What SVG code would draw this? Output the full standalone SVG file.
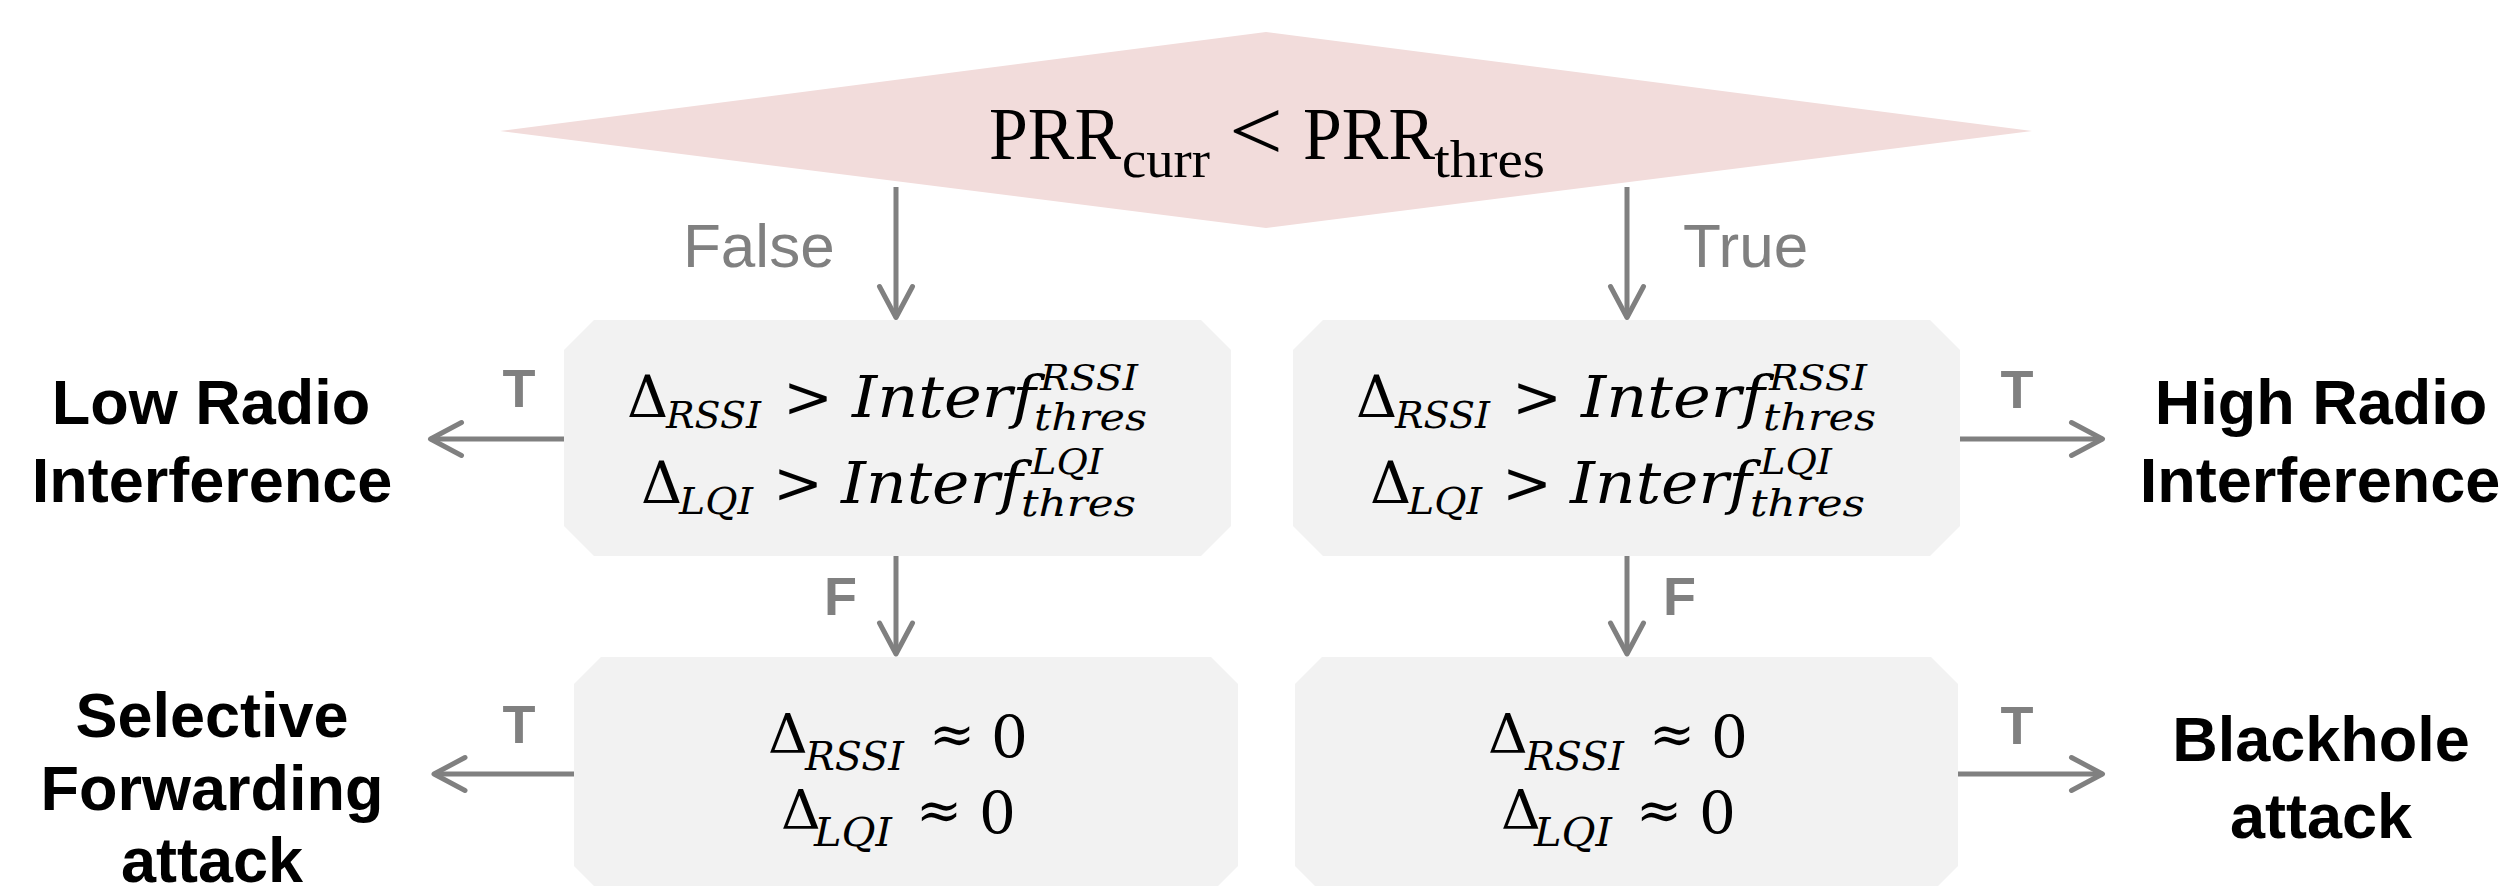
<svg xmlns="http://www.w3.org/2000/svg" width="2513" height="886" viewBox="0 0 2513 886">
  <style>
    .math { font-family: "DejaVu Serif", "Liberation Serif", serif; fill: #000; }
    .it { font-style: italic; }
    .prr { font-family: "Liberation Serif", "Times New Roman", serif; fill: #000; }
    .branch { font-family: "Liberation Sans", Arial, sans-serif; fill: #808080; font-size: 62px; }
    .tf { font-family: "Liberation Sans", Arial, sans-serif; fill: #808080; font-size: 54px; font-weight: bold; }
    .result { font-family: "Liberation Sans", Arial, sans-serif; fill: #000; font-size: 63px; font-weight: bold; text-anchor: middle; }
    .box { fill: #F2F2F2; }
    .wire { stroke: #808080; stroke-width: 5; fill: none; marker-end: url(#arrow); }
  </style>
  <defs>
    <marker id="arrow" markerUnits="userSpaceOnUse" markerWidth="40" markerHeight="40" viewBox="-35 -20 40 40" refX="0" refY="0" orient="auto" overflow="visible">
      <path d="M-31,-16.5 L0,0 L-31,16.5" fill="none" stroke="#808080" stroke-width="5" stroke-linecap="round" stroke-linejoin="round"/>
    </marker>
  </defs>

  <rect width="2513" height="886" fill="#FFFFFF"/>

  <!-- Top decision: packet reception ratio against threshold -->
  <g id="decision-prr">
    <polygon points="1266,32 2032,131 1266,228 500,131" fill="#F2DCDB"/>
    <text class="prr" x="989" y="159" font-size="75" textLength="132" lengthAdjust="spacingAndGlyphs">PRR</text>
    <text class="prr" x="1122" y="177" font-size="53" textLength="88" lengthAdjust="spacingAndGlyphs">curr</text>
    <text class="prr" x="1229" y="160" font-size="86" textLength="54" lengthAdjust="spacingAndGlyphs">&lt;</text>
    <text class="prr" x="1303" y="159" font-size="75" textLength="132" lengthAdjust="spacingAndGlyphs">PRR</text>
    <text class="prr" x="1434" y="177" font-size="53" textLength="111" lengthAdjust="spacingAndGlyphs">thres</text>
  </g>

  <!-- Interference check, False branch -->
  <g id="check-interference-false">
    <polygon class="box" points="594,320 1201,320 1231,350 1231,526 1201,556 594,556 564,526 564,350"/>
    <text class="math" x="627" y="417" font-size="57">Δ</text>
    <text class="math it" x="666" y="428" font-size="37" textLength="95" lengthAdjust="spacingAndGlyphs">RSSI</text>
    <text class="math" x="783" y="417" font-size="57" textLength="50" lengthAdjust="spacingAndGlyphs">&gt;</text>
    <text class="math it" x="852" y="417" font-size="57" textLength="184" lengthAdjust="spacingAndGlyphs">Interf</text>
    <text class="math it" x="1040" y="390" font-size="36" textLength="98" lengthAdjust="spacingAndGlyphs">RSSI</text>
    <text class="math it" x="1034" y="430" font-size="37" textLength="113" lengthAdjust="spacingAndGlyphs">thres</text>
    <text class="math" x="641" y="503" font-size="57">Δ</text>
    <text class="math it" x="679" y="514" font-size="37" textLength="74" lengthAdjust="spacingAndGlyphs">LQI</text>
    <text class="math" x="773" y="503" font-size="57" textLength="50" lengthAdjust="spacingAndGlyphs">&gt;</text>
    <text class="math it" x="841" y="503" font-size="57" textLength="182" lengthAdjust="spacingAndGlyphs">Interf</text>
    <text class="math it" x="1031" y="474" font-size="36" textLength="72" lengthAdjust="spacingAndGlyphs">LQI</text>
    <text class="math it" x="1021" y="516" font-size="37" textLength="115" lengthAdjust="spacingAndGlyphs">thres</text>
  </g>

  <!-- Interference check, True branch -->
  <g id="check-interference-true">
    <polygon class="box" points="1323,320 1930,320 1960,350 1960,526 1930,556 1323,556 1293,526 1293,350"/>
    <text class="math" x="1356" y="417" font-size="57">Δ</text>
    <text class="math it" x="1395" y="428" font-size="37" textLength="95" lengthAdjust="spacingAndGlyphs">RSSI</text>
    <text class="math" x="1512" y="417" font-size="57" textLength="50" lengthAdjust="spacingAndGlyphs">&gt;</text>
    <text class="math it" x="1581" y="417" font-size="57" textLength="184" lengthAdjust="spacingAndGlyphs">Interf</text>
    <text class="math it" x="1769" y="390" font-size="36" textLength="98" lengthAdjust="spacingAndGlyphs">RSSI</text>
    <text class="math it" x="1763" y="430" font-size="37" textLength="113" lengthAdjust="spacingAndGlyphs">thres</text>
    <text class="math" x="1370" y="503" font-size="57">Δ</text>
    <text class="math it" x="1408" y="514" font-size="37" textLength="74" lengthAdjust="spacingAndGlyphs">LQI</text>
    <text class="math" x="1502" y="503" font-size="57" textLength="50" lengthAdjust="spacingAndGlyphs">&gt;</text>
    <text class="math it" x="1570" y="503" font-size="57" textLength="182" lengthAdjust="spacingAndGlyphs">Interf</text>
    <text class="math it" x="1760" y="474" font-size="36" textLength="72" lengthAdjust="spacingAndGlyphs">LQI</text>
    <text class="math it" x="1750" y="516" font-size="37" textLength="115" lengthAdjust="spacingAndGlyphs">thres</text>
  </g>

  <!-- Near-zero deviation check, False branch -->
  <g id="check-zero-false">
    <polygon class="box" points="601,657 1211,657 1238,684 1238,866 1211,893 601,893 574,866 574,684"/>
    <text class="math" x="768" y="753" font-size="55">Δ</text>
    <text class="math it" x="805" y="770" font-size="40" textLength="99" lengthAdjust="spacingAndGlyphs">RSSI</text>
    <text class="math" x="929" y="753" font-size="55">≈</text>
    <text class="math" x="991" y="757" font-size="58">0</text>
    <text class="math" x="781" y="829" font-size="55">Δ</text>
    <text class="math it" x="814" y="846" font-size="40" textLength="78" lengthAdjust="spacingAndGlyphs">LQI</text>
    <text class="math" x="916" y="829" font-size="55">≈</text>
    <text class="math" x="979" y="833" font-size="58">0</text>
  </g>

  <!-- Near-zero deviation check, True branch -->
  <g id="check-zero-true">
    <polygon class="box" points="1322,657 1931,657 1958,684 1958,866 1931,893 1322,893 1295,866 1295,684"/>
    <text class="math" x="1488" y="753" font-size="55">Δ</text>
    <text class="math it" x="1525" y="770" font-size="40" textLength="99" lengthAdjust="spacingAndGlyphs">RSSI</text>
    <text class="math" x="1649" y="753" font-size="55">≈</text>
    <text class="math" x="1711" y="757" font-size="58">0</text>
    <text class="math" x="1501" y="829" font-size="55">Δ</text>
    <text class="math it" x="1534" y="846" font-size="40" textLength="78" lengthAdjust="spacingAndGlyphs">LQI</text>
    <text class="math" x="1636" y="829" font-size="55">≈</text>
    <text class="math" x="1699" y="833" font-size="58">0</text>
  </g>

  <!-- Outcomes -->
  <g id="result-low-interference">
    <text class="result" x="211" y="424">Low Radio</text>
    <text class="result" x="212" y="502">Interference</text>
  </g>
  <g id="result-high-interference">
    <text class="result" x="2321" y="424">High Radio</text>
    <text class="result" x="2320" y="502">Interference</text>
  </g>
  <g id="result-selective-forwarding">
    <text class="result" x="212" y="737">Selective</text>
    <text class="result" x="212" y="810">Forwarding</text>
    <text class="result" x="212" y="882">attack</text>
  </g>
  <g id="result-blackhole">
    <text class="result" x="2321" y="761">Blackhole</text>
    <text class="result" x="2321" y="838">attack</text>
  </g>

  <!-- Connectors with their branch labels -->
  <g id="connectors">
    <line class="wire" x1="896" y1="187" x2="896" y2="317.5"/>
    <line class="wire" x1="1627" y1="187" x2="1627" y2="317.5"/>
    <line class="wire" x1="896" y1="556" x2="896" y2="654"/>
    <line class="wire" x1="1627" y1="556" x2="1627" y2="654"/>
    <line class="wire" x1="564" y1="439" x2="430.5" y2="439"/>
    <line class="wire" x1="574" y1="774" x2="434" y2="774"/>
    <line class="wire" x1="1960" y1="439" x2="2102.5" y2="439"/>
    <line class="wire" x1="1958" y1="774" x2="2102.5" y2="774"/>

    <text class="branch" x="683" y="267">False</text>
    <text class="branch" x="1683" y="267">True</text>
    <text class="tf" x="824" y="615">F</text>
    <text class="tf" x="1663" y="615">F</text>
    <text class="tf" x="519" y="407" text-anchor="middle">T</text>
    <text class="tf" x="519" y="743" text-anchor="middle">T</text>
    <text class="tf" x="2017" y="408" text-anchor="middle">T</text>
    <text class="tf" x="2017" y="744" text-anchor="middle">T</text>
  </g>
</svg>
